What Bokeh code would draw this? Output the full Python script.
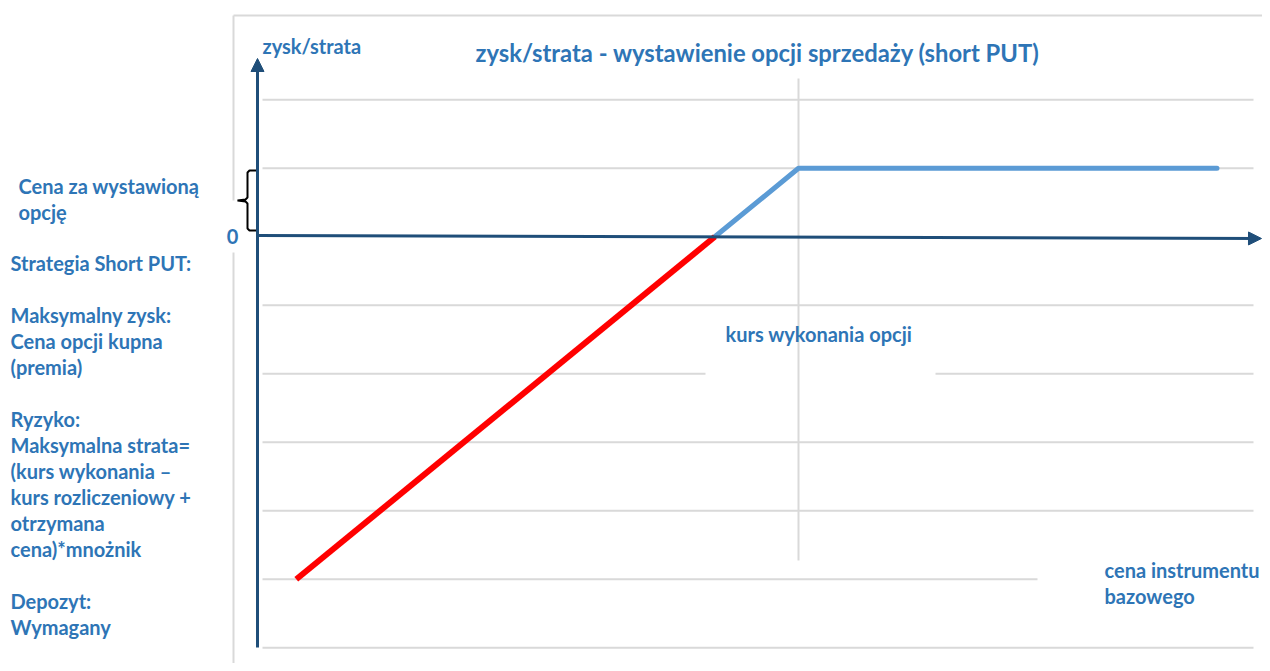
from bokeh.plotting import figure
from bokeh.models import Range1d, Arrow, NormalHead
from bokeh.core.properties import value
from bokeh.embed import file_html
from bokeh.resources import INLINE

# ---- data (short PUT payoff: strike 10, premium 1) ----
loss_x = [4, 9]
loss_y = [-5, 0]
gain_x = [9, 10, 15]
gain_y = [0, 1, 1]
strike = 10
premium = 1
grid_levels = [2, 1, -1, -2, -3, -4, -5, -6]

title_text = "zysk/strata - wystawienie opcji sprzedaży (short PUT)"
y_label = "zysk/strata"
x_label = ["cena instrumentu", "bazowego"]
strike_label = "kurs wykonania opcji"
premium_label = ["Cena za wystawioną", "opcję"]
zero_label = "0"
info_lines = ["Strategia Short PUT:", "", "Maksymalny zysk:", "Cena opcji kupna", "(premia)", "",
              "Ryzyko:", "Maksymalna strata=", "(kurs wykonania –", "kurs rozliczeniowy +",
              "otrzymana", "cena)*mnożnik", "", "Depozyt:", "Wymagany"]

# ---- layout ----
W, H = 1262, 663
OFF = 0
SX, SY = 83.7, 68.5          # px per unit
X_PIX_STRIKE, Y_PIX_ZERO = 798, 236.3
X0 = strike - (X_PIX_STRIKE - OFF) / SX
X1 = X0 + W / SX
Y1 = (Y_PIX_ZERO - OFF) / SY
Y0 = Y1 - H / SY

def dx(px):
    return X0 + (px - OFF) / SX

def dy(py):
    return Y1 - (py - OFF) / SY

TXT = "#2E75B6"
AX = "#1F4E79"
GRID = "#D9D9D9"
FONT = value("Lato")

p = figure(width=W, height=H, x_range=Range1d(X0, X1), y_range=Range1d(Y0, Y1),
           output_backend="svg", toolbar_location=None, min_border=0,
           x_axis_location=None, y_axis_location=None)
p.xgrid.visible = False
p.ygrid.visible = False
p.outline_line_color = None
p.background_fill_color = "white"
p.border_fill_color = "white"

# chart border (top + left)
p.segment(x0=[dx(233), dx(233), dx(233)], y0=[dy(15), dy(15), dy(252)],
          x1=[dx(1270), dx(233), dx(233)], y1=[dy(15), dy(200), dy(671)],
          line_color=GRID, line_width=2)

# horizontal gridlines
p.segment(x0=[dx(262)] * len(grid_levels), y0=grid_levels,
          x1=[dx(1253)] * len(grid_levels), y1=grid_levels,
          line_color=GRID, line_width=2)
# white text boxes hiding parts of gridlines
p.quad(left=[dx(705), dx(1037)], right=[dx(935), dx(1270)],
       top=[dy(312), dy(548)], bottom=[dy(398), dy(612)],
       fill_color="white", line_color=None)

# vertical gridline at strike
p.segment(x0=[strike], y0=[dy(78)], x1=[strike], y1=[dy(560)],
          line_color=GRID, line_width=2)

# axes with arrows
p.add_layout(Arrow(end=NormalHead(size=13, fill_color=AX, line_color=AX, line_width=1),
                   x_start=dx(257), y_start=dy(647), x_end=dx(257), y_end=dy(58),
                   line_color=AX, line_width=3))
p.add_layout(Arrow(end=NormalHead(size=13, fill_color=AX, line_color=AX, line_width=1),
                   x_start=dx(257), y_start=dy(235), x_end=dx(1261), y_end=dy(238),
                   line_color=AX, line_width=3))

# payoff lines
p.line(gain_x, gain_y, line_color="#5B9BD5", line_width=5, line_cap="round", line_join="round")
p.line(loss_x, loss_y, line_color="#FF0000", line_width=6, line_cap="butt")

# brace for premium
bx = [258, 249, 247, 247, 245, 237, 245, 247, 247, 249, 258]
by = [170, 170, 172, 197, 199, 200, 201, 203, 228, 230, 230]
p.line([dx(v) for v in bx], [dy(v) for v in by], line_color="black", line_width=2)

def txt(x, y, t, size, align="left"):
    p.text(x=[x], y=[y], text=[t], text_color=TXT, text_font=FONT, text_font_style="bold",
           text_font_size=size, text_baseline="middle", text_align=align)

txt(dx(475), dy(52), title_text, "23.8px")
txt(dx(262), dy(45), y_label, "20px")
txt(dx(725), dy(333), strike_label, "20px")
txt(dx(1104), dy(569), x_label[0], "20px")
txt(dx(1104), dy(595), x_label[1], "20px")
txt(dx(18), dy(185), premium_label[0], "20px")
txt(dx(18), dy(211), premium_label[1], "20px")
txt(dx(232), dy(236), zero_label, "20px", align="center")
for i, line in enumerate(info_lines):
    if line:
        txt(dx(10), dy(262 + 26 * i), line, "20px")

open("out.html", "w").write(file_html(p, INLINE))
